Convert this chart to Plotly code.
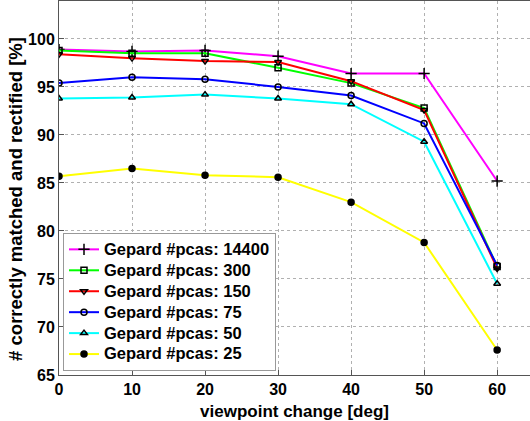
import plotly.graph_objects as go

x_deg = [0, 10, 20, 30, 40, 50, 60]
s14400 = [98.9, 98.7, 98.8, 98.2, 96.4, 96.4, 85.2]
s300 = [98.8, 98.5, 98.5, 97.0, 95.4, 92.8, 76.3]
s150 = [98.4, 98.0, 97.7, 97.6, 95.6, 92.6, 76.1]
s75 = [95.4, 96.0, 95.8, 95.0, 94.1, 91.2, 76.4]
s50 = [93.8, 93.9, 94.2, 93.8, 93.2, 89.3, 74.5]
s25 = [85.7, 86.5, 85.8, 85.6, 83.0, 78.8, 67.6]

names = ["Gepard #pcas: 14400", "Gepard #pcas: 300", "Gepard #pcas: 150",
         "Gepard #pcas: 75", "Gepard #pcas: 50", "Gepard #pcas: 25"]
series = [s14400, s300, s150, s75, s50, s25]
colors = ["#ff00ff", "#00ff00", "#ff0000", "#0000ff", "#00ffff", "#ffff00"]
symbols = ["cross-thin", "square-open", "triangle-down-open", "circle-open",
           "triangle-up-open", "circle"]
sizes = [8, 6, 6, 6, 6, 6]

fig = go.Figure()
for n, s, c, sym, sz in zip(names, series, colors, symbols, sizes):
    fig.add_trace(go.Scatter(
        x=x_deg, y=s, name='<span style="font-size:16.5px">' + n + '</span>',
        mode="lines+markers",
        line=dict(color=c, width=2),
        marker=dict(symbol=sym, size=sz, color="black",
                    line=dict(color="black", width=1.5)),
    ))

FAM = "Liberation Sans, Arial"
fig.update_layout(
    width=530, height=421,
    margin=dict(l=59, r=0, t=1, b=46, autoexpand=False),
    paper_bgcolor="white", plot_bgcolor="white",
    font=dict(family=FAM, size=16, color="black", weight="bold"),
    showlegend=True,
    legend=dict(x=0.0085, y=0.011, xanchor="left", yanchor="bottom",
                bgcolor="white", bordercolor="#999999", borderwidth=1,
                font=dict(family=FAM, size=13.8, color="black", weight="bold"),
                tracegroupgap=0, itemwidth=30),
    annotations=[
        dict(text="# correctly matched and rectified [%]", textangle=-90,
             xref="paper", yref="paper", x=-0.092, y=0.47,
             xanchor="center", yanchor="middle", showarrow=False,
             font=dict(family=FAM, size=18.5, color="black", weight="bold")),
    ],
)
fig.update_xaxes(
    range=[0, 64.5], tickvals=[0, 10, 20, 30, 40, 50, 60],
    showgrid=True, gridcolor="#b0b0b0", griddash="dot", gridwidth=1,
    showline=True, linecolor="#555555", linewidth=1, mirror=True,
    ticks="inside", ticklen=5, tickcolor="#555555",
    zeroline=False, automargin=False,
    title=dict(text="viewpoint change [deg]",
               font=dict(family=FAM, size=17, color="black", weight="bold")),
    tickfont=dict(family=FAM, size=16, color="black", weight="bold"),
)
fig.update_yaxes(
    range=[65, 103.95], tickvals=[65, 70, 75, 80, 85, 90, 95, 100],
    showgrid=True, gridcolor="#b0b0b0", griddash="dot", gridwidth=1,
    showline=True, linecolor="#555555", linewidth=1, mirror=True,
    ticks="inside", ticklen=5, tickcolor="#555555",
    zeroline=False, automargin=False,
    tickfont=dict(family=FAM, size=16, color="black", weight="bold"),
)

fig.write_html(
    "out.html",
    config={"displayModeBar": False},
    post_script="document.body.style.margin='0';document.body.style.padding='0';"
                "document.body.style.overflow='hidden';",
)
